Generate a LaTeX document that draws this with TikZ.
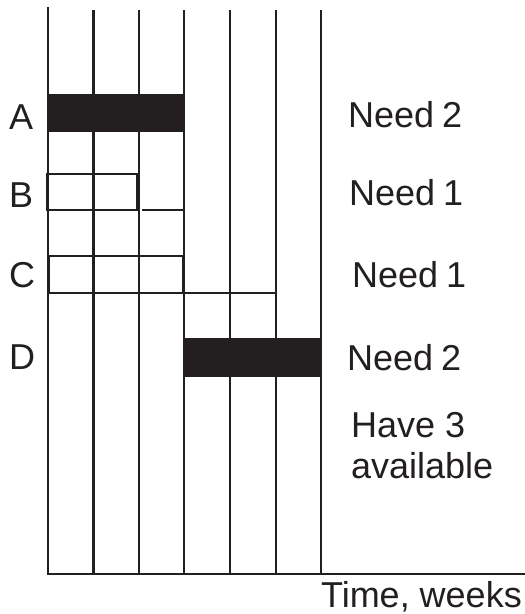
\documentclass[tikz,border=0pt]{standalone}
\usepackage{fontspec}
\setmainfont{Liberation Sans}
\definecolor{ink}{HTML}{231F20}
\begin{document}
\begin{tikzpicture}[x=1pt,y=-1pt,
  gridline/.style={draw=ink,line width=2.6pt},
  barfill/.style={fill=ink},
  lbl/.style={text=ink,inner sep=0pt,anchor=base west,font=\fontsize{36}{40}\selectfont}]
\useasboundingbox (0,0) rectangle (525,614);
% vertical grid lines
\draw[gridline] (48,7) -- (48,574);
\foreach \x in {93.5,139,184,230,276,321}
  \draw[gridline] (\x,10) -- (\x,574);
% time axis
\draw[gridline] (46.7,574) -- (525,574);
% A
\fill[barfill] (48,94) rectangle (184,132);
% B
\draw[gridline] (47.5,174) rectangle (137,210);
\draw[gridline] (142,210) -- (184,210);
% C
\draw[gridline] (48.5,256) rectangle (183,293);
\draw[gridline] (183,293) -- (275.5,293);
% D
\fill[barfill] (184,338) rectangle (321,377);
% labels
\node[lbl] (la) at (9,129) {A};
\node[lbl] (lb) at (9,207) {B};
\node[lbl] (lc) at (9,287) {C};
\node[lbl] (ld) at (9,369) {D};
\node[lbl] (na) at (348,127) {Need\hspace{-2pt} 2};
\node[lbl] (nb) at (349,205) {Need\hspace{-2pt} 1};
\node[lbl] (nc) at (352,287) {Need\hspace{-2pt} 1};
\node[lbl] (nd) at (347,370) {Need\hspace{-2pt} 2};
\node[lbl] (h1) at (351,437) {Have 3};
\node[lbl] (h2) at (351,478) {available};
\node[lbl,anchor=base east] (tw) at (522,607) {Time, weeks};
\end{tikzpicture}
\end{document}
